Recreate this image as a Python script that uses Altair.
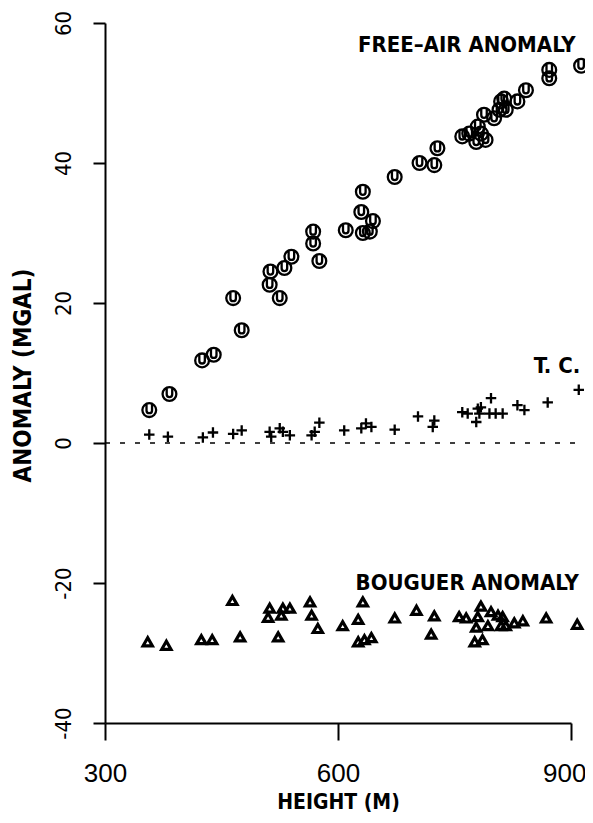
import altair as alt
import pandas as pd

# Free-air anomaly (height m, anomaly mGal)
fa_h = [357, 383, 425, 440, 465, 476, 512, 513, 525, 531, 540, 568, 568, 576, 610,
        630, 632, 632, 641, 645, 673, 705, 724, 728, 760, 769, 778, 780, 784, 788,
        790, 801, 808, 810, 814, 816, 831, 842, 872, 872, 913]
fa_a = [4.7, 7.0, 11.8, 12.6, 20.7, 16.1, 22.6, 24.5, 20.7, 25.0, 26.6, 30.2, 28.5, 26.0, 30.4,
        33.0, 30.0, 35.9, 30.2, 31.7, 38.0, 40.0, 39.7, 42.1, 43.8, 44.2, 43.0, 45.2, 44.2, 46.9,
        43.3, 46.4, 47.6, 48.8, 49.2, 47.6, 48.8, 50.4, 53.3, 52.1, 53.9]

# Terrain correction
tc_h = [357, 381, 426, 439, 465, 476, 512, 514, 525, 529, 538, 566, 570, 576, 608, 630,
        636, 643, 673, 703, 722, 724, 760, 767, 778, 780, 782, 784, 795, 797, 803, 812,
        831, 840, 870, 910]
tc_a = [1.2, 0.9, 0.8, 1.5, 1.3, 1.8, 1.6, 0.9, 2.1, 1.6, 1.1, 1.1, 1.6, 2.9, 1.8, 2.1,
        2.8, 2.3, 1.9, 3.8, 2.3, 3.2, 4.4, 4.2, 3.0, 4.9, 4.2, 5.1, 4.2, 6.4, 4.2, 4.2,
        5.4, 4.7, 5.8, 7.6]

# Bouguer anomaly
bg_h = [355, 379, 424, 438, 464, 474, 510, 512, 523, 527, 529, 538, 564, 566, 574, 606,
        626, 632, 626, 634, 643, 673, 701, 724, 720, 756, 765, 776, 786, 778, 780, 784,
        793, 797, 806, 810, 812, 816, 827, 838, 868, 908]
bg_a = [-28.4, -28.9, -28.1, -28.1, -22.5, -27.7, -24.9, -23.6, -27.7, -24.6, -23.6, -23.6,
        -22.7, -24.6, -26.5, -26.1, -25.2, -22.7, -28.4, -28.1, -27.8, -25.0, -23.9, -24.7,
        -27.3, -24.8, -25.0, -28.4, -28.1, -26.3, -24.8, -23.3, -26.1, -24.1, -24.6, -26.1,
        -24.8, -26.1, -25.7, -25.4, -25.0, -25.9]

label_text = ["FREE\u2013AIR ANOMALY", "T. C.", "BOUGUER ANOMALY"]
label_h = [906, 912, 910]
label_a = [56.9, 11.0, -20.0]

NARROW = "DejaVu Sans Condensed, Liberation Sans Narrow, sans-serif"
WIDE = "Liberation Sans, Arial, Helvetica, sans-serif"

fa = pd.DataFrame({"h": fa_h, "a": fa_a})
tc = pd.DataFrame({"h": tc_h, "a": tc_a})
bg = pd.DataFrame({"h": bg_h, "a": bg_a})
lab = pd.DataFrame({"h": label_h, "a": label_a, "t": label_text})

xscale = alt.Scale(domain=[300, 900], nice=False, zero=False)
yscale = alt.Scale(domain=[-40, 60], nice=False, zero=False)

xaxis = alt.Axis(values=[300, 600, 900], tickSize=17, tickWidth=2, tickColor="black",
                 domainWidth=2, domainColor="black", labelFont=WIDE, labelFontSize=26,
                 labelColor="black", labelPadding=20, labelFlush=False,
                 labelAlign={"expr": "datum.value == 900 ? 'right' : 'center'"},
                 labelOffset={"expr": "datum.value == 900 ? 15 : 0"},
                 title="HEIGHT (M)", titleFont=NARROW, titleFontSize=21,
                 titleFontWeight="bold", titleColor="black", titlePadding=5, grid=False)
yaxis = alt.Axis(values=[-40, -20, 0, 20, 40, 60], tickSize=12, tickWidth=2, tickColor="black",
                 domainWidth=2, domainColor="black", labelFont=NARROW, labelFontSize=22,
                 labelColor="black", labelAngle=270, labelAlign="center",
                 labelBaseline="middle", labelPadding=30, labelFlush=False,
                 labelExpr="toString(datum.value)",
                 title="ANOMALY (MGAL)", titleFont=NARROW, titleFontSize=24,
                 titleFontWeight="bold", titleColor="black", titleAngle=270,
                 titleX=-82, titleY=352, titleAlign="center", titleBaseline="middle",
                 grid=False)

circle_u = ("M1,0A1,1 0 1 1 -1,0A1,1 0 1 1 1,0"
            "M-0.4,-0.9V0.05A0.4,0.4 0 0 0 0.4,0.05V-0.9")
plus = "M-1,0H1M0,-1V1"

fa_layer = alt.Chart(fa).mark_point(shape=circle_u, filled=False, size=190,
                                    strokeWidth=2.3, color="black", opacity=1).encode(
    x=alt.X("h:Q", scale=xscale, axis=xaxis),
    y=alt.Y("a:Q", scale=yscale, axis=yaxis),
)
tc_layer = alt.Chart(tc).mark_point(shape=plus, filled=False, size=110,
                                    strokeWidth=2.3, color="black", opacity=1).encode(
    x=alt.X("h:Q", scale=xscale), y=alt.Y("a:Q", scale=yscale))
bg_layer = alt.Chart(bg).mark_point(shape="triangle-up", filled=False, size=85,
                                    strokeWidth=3.2, color="black", opacity=1).encode(
    x=alt.X("h:Q", scale=xscale), y=alt.Y("a:Q", scale=yscale))

zero = alt.Chart(pd.DataFrame({"h": [300], "h2": [912], "a": [0]})).mark_rule(
    strokeDash=[5, 10], strokeWidth=1.5, color="black").encode(
    x=alt.X("h:Q", scale=xscale), x2="h2:Q", y=alt.Y("a:Q", scale=yscale))

labels = alt.Chart(lab).mark_text(align="right", baseline="middle", font=NARROW,
                                  fontSize=22, fontWeight="bold", color="black").encode(
    x=alt.X("h:Q", scale=xscale), y=alt.Y("a:Q", scale=yscale), text="t:N")

chart = alt.layer(fa_layer, tc_layer, bg_layer, zero, labels).properties(
    width=466, height=700,
    autosize=alt.AutoSizeParams(type="none"),
    padding={"left": 97, "top": 15, "right": 14, "bottom": 96},
    background="white",
).configure_view(stroke=None)

chart.save("out.html", embed_options={"renderer": "svg", "actions": False})
